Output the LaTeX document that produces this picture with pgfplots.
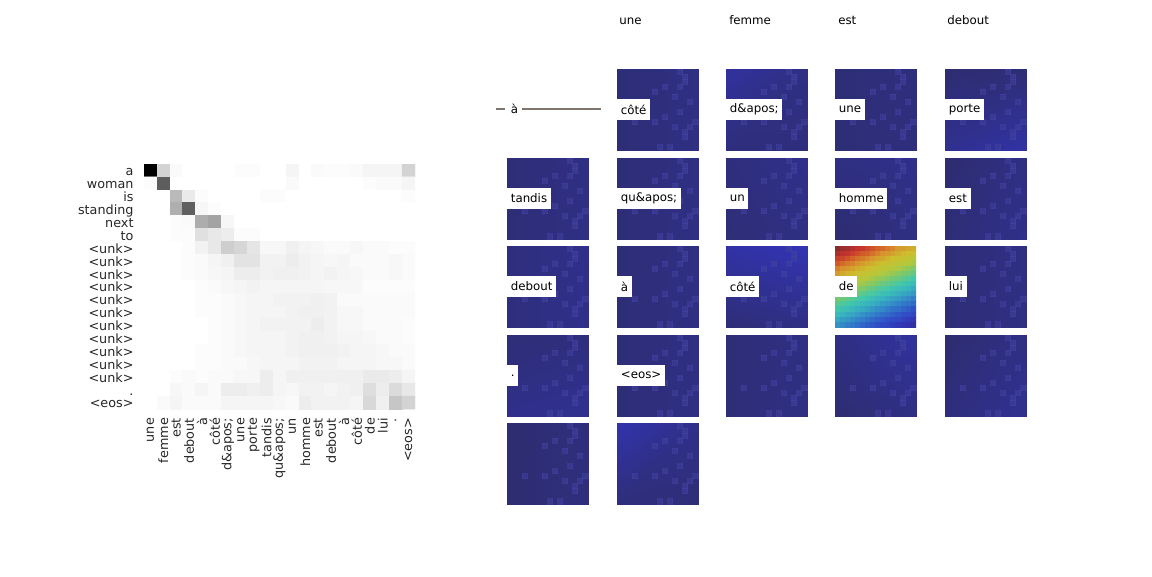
\documentclass[border=0pt]{standalone}
\usepackage{fontspec}
\setmainfont{DejaVu Sans}
\usepackage{pgfplots}
\pgfplotsset{compat=1.18}
\usepackage{pgfplotstable}
\definecolor{speck}{RGB}{66,66,160}
\definecolor{guide}{RGB}{128,118,112}
\definecolor{ink}{RGB}{38,38,38}
\newcommand{\px}{0.72pt}

\pgfplotsset{
  colormap={wb}{gray(0pt)=(1) gray(1pt)=(0)},
  colormap={att}{[1pt]
    rgb255(0pt)=(46,45,112) rgb255(5pt)=(48,48,145) rgb255(10pt)=(51,51,180)
    rgb255(20pt)=(48,82,200) rgb255(30pt)=(50,132,200) rgb255(40pt)=(56,180,190)
    rgb255(47pt)=(66,200,170) rgb255(55pt)=(120,200,110) rgb255(63pt)=(180,200,60)
    rgb255(72pt)=(205,190,45) rgb255(80pt)=(215,145,45) rgb255(87pt)=(210,90,40)
    rgb255(93pt)=(195,50,45) rgb255(100pt)=(135,45,45)},
  imgax/.style={anchor=north west, width=58.32pt, height=58.32pt, scale only axis,
    xmin=0, xmax=16, ymin=0, ymax=16, y dir=reverse, hide axis,
    colormap name=att, point meta min=0, point meta max=1},
}
\tikzset{
  lab/.style={fill=white, anchor=west, inner xsep=2.6pt, inner ysep=0pt,
    minimum height=15pt, font=\fontsize{8.5}{10}\selectfont, text=black},
  ttl/.style={anchor=base west, inner sep=0pt, font=\fontsize{8.5}{10}\selectfont, text=black},
}

% lighter pixels shared by all attention images
\pgfplotstableread{
x y
12.5 0.5
13.5 1.5
13.5 2.5
9.5 3.5
12.5 3.5
7.5 4.5
11.5 5.5
14.5 6.5
12.5 8.5
9.5 9.5
7.5 10.5
15.5 10.5
11.5 11.5
14.5 11.5
13.5 12.5
13.5 13.5
8.5 15.5
10.5 15.5
3.5 10.5
}\speck

% #1,#2 top-left in px; #3..#6 corner values TL TR BL BR
\newcommand{\img}[6]{%
\begin{axis}[imgax, at={(#1*\px,-#2*\px)}]
\addplot[surf, shader=interp, mesh/cols=2, point meta=explicit]
  coordinates {(0,0) [#3] (16,0) [#4] (0,16) [#5] (16,16) [#6]};
\addplot[speck, only marks, mark=square*, mark size=1.82pt, opacity=0.55,
  mark options={draw=speck, fill=speck, line width=0pt}] table {\speck};
\end{axis}}

\begin{document}
\begin{tikzpicture}
\path[use as bounding box] (0,0) rectangle (1152*\px,-576*\px);

% source/target attention heatmap
\begin{axis}[
  anchor=north west, at={(144*\px,-164*\px)},
  width=195.12pt, height=176.4pt, scale only axis,
  xmin=-0.5, xmax=20.5, ymin=-0.5, ymax=18.5, y dir=reverse,
  axis line style={draw=none}, major tick length=0pt,
  xtick={0,...,20}, ytick={0,...,18},
  xticklabels={une,femme,est,debout,à,côté,d\&apos;,une,porte,tandis,qu\&apos;,un,homme,est,debout,à,côté,de,lui,.,<eos>},
  yticklabels={a,woman,is,standing,next,to,<unk>,<unk>,<unk>,<unk>,<unk>,<unk>,<unk>,<unk>,<unk>,<unk>,<unk>,.,<eos>},
  xticklabel style={rotate=90, anchor=east, font=\fontsize{9.2}{10}\selectfont, text=ink},
  yticklabel style={anchor=east, inner ysep=0pt, text height=6.6pt, text depth=1.2pt,
    yshift=-1.2pt, font=\fontsize{9.2}{10}\selectfont, text=ink},
  xticklabel shift=3pt, yticklabel shift=4pt,
  colormap name=wb, point meta min=0, point meta max=1,
]
\addplot[matrix plot*, mesh/cols=21, point meta=explicit] coordinates {
(0,0) [1.00] (1,0) [0.17] (2,0) [0.02] (3,0) [0.00] (4,0) [0.00] (5,0) [0.00] (6,0) [0.00] (7,0) [0.01] (8,0) [0.01] (9,0) [0.00] (10,0) [0.00] (11,0) [0.04] (12,0) [0.00] (13,0) [0.02] (14,0) [0.01] (15,0) [0.01] (16,0) [0.02] (17,0) [0.04] (18,0) [0.04] (19,0) [0.04] (20,0) [0.17]
(0,1) [0.01] (1,1) [0.63] (2,1) [0.00] (3,1) [0.00] (4,1) [0.00] (5,1) [0.00] (6,1) [0.00] (7,1) [0.00] (8,1) [0.00] (9,1) [0.00] (10,1) [0.00] (11,1) [0.02] (12,1) [0.00] (13,1) [0.00] (14,1) [0.00] (15,1) [0.00] (16,1) [0.00] (17,1) [0.01] (18,1) [0.02] (19,1) [0.02] (20,1) [0.04]
(0,2) [0.00] (1,2) [0.00] (2,2) [0.27] (3,2) [0.08] (4,2) [0.01] (5,2) [0.00] (6,2) [0.00] (7,2) [0.00] (8,2) [0.00] (9,2) [0.01] (10,2) [0.01] (11,2) [0.00] (12,2) [0.00] (13,2) [0.00] (14,2) [0.00] (15,2) [0.00] (16,2) [0.00] (17,2) [0.00] (18,2) [0.00] (19,2) [0.00] (20,2) [0.01]
(0,3) [0.00] (1,3) [0.00] (2,3) [0.31] (3,3) [0.62] (4,3) [0.03] (5,3) [0.01] (6,3) [0.00] (7,3) [0.00] (8,3) [0.00] (9,3) [0.00] (10,3) [0.00] (11,3) [0.00] (12,3) [0.00] (13,3) [0.00] (14,3) [0.00] (15,3) [0.00] (16,3) [0.00] (17,3) [0.00] (18,3) [0.00] (19,3) [0.00] (20,3) [0.00]
(0,4) [0.00] (1,4) [0.00] (2,4) [0.01] (3,4) [0.02] (4,4) [0.32] (5,4) [0.36] (6,4) [0.03] (7,4) [0.00] (8,4) [0.00] (9,4) [0.00] (10,4) [0.00] (11,4) [0.00] (12,4) [0.00] (13,4) [0.00] (14,4) [0.00] (15,4) [0.00] (16,4) [0.00] (17,4) [0.00] (18,4) [0.00] (19,4) [0.00] (20,4) [0.00]
(0,5) [0.00] (1,5) [0.00] (2,5) [0.01] (3,5) [0.01] (4,5) [0.12] (5,5) [0.09] (6,5) [0.07] (7,5) [0.01] (8,5) [0.01] (9,5) [0.00] (10,5) [0.00] (11,5) [0.00] (12,5) [0.00] (13,5) [0.00] (14,5) [0.00] (15,5) [0.00] (16,5) [0.00] (17,5) [0.00] (18,5) [0.00] (19,5) [0.00] (20,5) [0.00]
(0,6) [0.00] (1,6) [0.00] (2,6) [0.00] (3,6) [0.01] (4,6) [0.05] (5,6) [0.09] (6,6) [0.19] (7,6) [0.16] (8,6) [0.10] (9,6) [0.03] (10,6) [0.03] (11,6) [0.06] (12,6) [0.04] (13,6) [0.03] (14,6) [0.02] (15,6) [0.02] (16,6) [0.03] (17,6) [0.02] (18,6) [0.02] (19,6) [0.01] (20,6) [0.01]
(0,7) [0.00] (1,7) [0.00] (2,7) [0.00] (3,7) [0.01] (4,7) [0.02] (5,7) [0.04] (6,7) [0.06] (7,7) [0.11] (8,7) [0.11] (9,7) [0.05] (10,7) [0.05] (11,7) [0.07] (12,7) [0.05] (13,7) [0.04] (14,7) [0.03] (15,7) [0.04] (16,7) [0.02] (17,7) [0.02] (18,7) [0.02] (19,7) [0.03] (20,7) [0.02]
(0,8) [0.00] (1,8) [0.00] (2,8) [0.00] (3,8) [0.01] (4,8) [0.02] (5,8) [0.03] (6,8) [0.04] (7,8) [0.07] (8,8) [0.07] (9,8) [0.05] (10,8) [0.06] (11,8) [0.06] (12,8) [0.05] (13,8) [0.04] (14,8) [0.05] (15,8) [0.04] (16,8) [0.03] (17,8) [0.02] (18,8) [0.02] (19,8) [0.03] (20,8) [0.02]
(0,9) [0.00] (1,9) [0.00] (2,9) [0.00] (3,9) [0.00] (4,9) [0.01] (5,9) [0.02] (6,9) [0.03] (7,9) [0.04] (8,9) [0.05] (9,9) [0.04] (10,9) [0.04] (11,9) [0.04] (12,9) [0.04] (13,9) [0.04] (14,9) [0.03] (15,9) [0.03] (16,9) [0.03] (17,9) [0.01] (18,9) [0.01] (19,9) [0.01] (20,9) [0.01]
(0,10) [0.00] (1,10) [0.00] (2,10) [0.00] (3,10) [0.00] (4,10) [0.01] (5,10) [0.01] (6,10) [0.02] (7,10) [0.03] (8,10) [0.04] (9,10) [0.04] (10,10) [0.05] (11,10) [0.05] (12,10) [0.05] (13,10) [0.06] (14,10) [0.05] (15,10) [0.02] (16,10) [0.02] (17,10) [0.02] (18,10) [0.02] (19,10) [0.02] (20,10) [0.02]
(0,11) [0.00] (1,11) [0.00] (2,11) [0.00] (3,11) [0.00] (4,11) [0.01] (5,11) [0.01] (6,11) [0.02] (7,11) [0.03] (8,11) [0.04] (9,11) [0.04] (10,11) [0.04] (11,11) [0.05] (12,11) [0.06] (13,11) [0.06] (14,11) [0.05] (15,11) [0.03] (16,11) [0.03] (17,11) [0.02] (18,11) [0.02] (19,11) [0.02] (20,11) [0.02]
(0,12) [0.00] (1,12) [0.00] (2,12) [0.00] (3,12) [0.00] (4,12) [0.00] (5,12) [0.01] (6,12) [0.02] (7,12) [0.03] (8,12) [0.04] (9,12) [0.05] (10,12) [0.05] (11,12) [0.05] (12,12) [0.05] (13,12) [0.07] (14,12) [0.05] (15,12) [0.03] (16,12) [0.03] (17,12) [0.02] (18,12) [0.02] (19,12) [0.02] (20,12) [0.01]
(0,13) [0.00] (1,13) [0.00] (2,13) [0.00] (3,13) [0.00] (4,13) [0.00] (5,13) [0.01] (6,13) [0.02] (7,13) [0.03] (8,13) [0.04] (9,13) [0.04] (10,13) [0.04] (11,13) [0.05] (12,13) [0.06] (13,13) [0.06] (14,13) [0.05] (15,13) [0.04] (16,13) [0.04] (17,13) [0.03] (18,13) [0.02] (19,13) [0.02] (20,13) [0.01]
(0,14) [0.00] (1,14) [0.00] (2,14) [0.00] (3,14) [0.00] (4,14) [0.01] (5,14) [0.01] (6,14) [0.02] (7,14) [0.03] (8,14) [0.04] (9,14) [0.04] (10,14) [0.04] (11,14) [0.05] (12,14) [0.06] (13,14) [0.06] (14,14) [0.06] (15,14) [0.05] (16,14) [0.04] (17,14) [0.04] (18,14) [0.03] (19,14) [0.02] (20,14) [0.02]
(0,15) [0.00] (1,15) [0.00] (2,15) [0.00] (3,15) [0.00] (4,15) [0.01] (5,15) [0.01] (6,15) [0.02] (7,15) [0.02] (8,15) [0.03] (9,15) [0.04] (10,15) [0.04] (11,15) [0.04] (12,15) [0.05] (13,15) [0.05] (14,15) [0.05] (15,15) [0.04] (16,15) [0.04] (17,15) [0.04] (18,15) [0.03] (19,15) [0.03] (20,15) [0.02]
(0,16) [0.00] (1,16) [0.00] (2,16) [0.01] (3,16) [0.02] (4,16) [0.01] (5,16) [0.02] (6,16) [0.02] (7,16) [0.03] (8,16) [0.03] (9,16) [0.07] (10,16) [0.04] (11,16) [0.06] (12,16) [0.06] (13,16) [0.06] (14,16) [0.06] (15,16) [0.06] (16,16) [0.06] (17,16) [0.08] (18,16) [0.08] (19,16) [0.07] (20,16) [0.04]
(0,17) [0.00] (1,17) [0.00] (2,17) [0.03] (3,17) [0.02] (4,17) [0.04] (5,17) [0.02] (6,17) [0.07] (7,17) [0.07] (8,17) [0.06] (9,17) [0.07] (10,17) [0.04] (11,17) [0.03] (12,17) [0.05] (13,17) [0.05] (14,17) [0.04] (15,17) [0.05] (16,17) [0.06] (17,17) [0.13] (18,17) [0.07] (19,17) [0.14] (20,17) [0.09]
(0,18) [0.00] (1,18) [0.02] (2,18) [0.04] (3,18) [0.02] (4,18) [0.02] (5,18) [0.02] (6,18) [0.04] (7,18) [0.04] (8,18) [0.04] (9,18) [0.04] (10,18) [0.03] (11,18) [0.02] (12,18) [0.07] (13,18) [0.05] (14,18) [0.05] (15,18) [0.05] (16,18) [0.04] (17,18) [0.15] (18,18) [0.06] (19,18) [0.22] (20,18) [0.17]
};
\end{axis}

% attention images, row by row
\img{617}{69}{0.01}{0.03}{0.01}{0.03}
\img{726}{69}{0.07}{0.03}{0.02}{0.02}
\img{835}{69}{0.01}{0.02}{0.01}{0.02}
\img{945}{69}{0.00}{0.01}{0.05}{0.08}

\img{507}{158}{0.01}{0.03}{0.01}{0.03}
\img{617}{158}{0.01}{0.03}{0.01}{0.03}
\img{726}{158}{0.02}{0.04}{0.01}{0.03}
\img{835}{158}{0.03}{0.04}{0.00}{0.03}
\img{945}{158}{0.00}{0.03}{0.01}{0.04}

\img{507}{246}{0.02}{0.04}{0.02}{0.04}
\img{617}{246}{0.01}{0.03}{0.01}{0.03}
\img{726}{246}{0.08}{0.10}{0.01}{0.03}
\img{945}{246}{0.01}{0.03}{0.01}{0.03}

\img{507}{335}{0.01}{0.02}{0.04}{0.05}
\img{617}{335}{0.01}{0.03}{0.01}{0.03}
\img{726}{335}{0.01}{0.03}{0.01}{0.03}
\img{835}{335}{0.03}{0.07}{0.00}{0.03}
\img{945}{335}{0.00}{0.03}{0.02}{0.05}

\img{507}{423}{0.00}{0.02}{0.00}{0.02}
\img{617}{423}{0.09}{0.04}{0.02}{0.01}

% the one strong attention image ("de")
\begin{axis}[imgax, at={(835*\px,-246*\px)}]
\addplot[matrix plot*, mesh/cols=16, point meta=explicit] coordinates {
(0.5,0.5) [1.00] (1.5,0.5) [0.98] (2.5,0.5) [0.97] (3.5,0.5) [0.95] (4.5,0.5) [0.93] (5.5,0.5) [0.92] (6.5,0.5) [0.90] (7.5,0.5) [0.88] (8.5,0.5) [0.86] (9.5,0.5) [0.85] (10.5,0.5) [0.83] (11.5,0.5) [0.81] (12.5,0.5) [0.78] (13.5,0.5) [0.78] (14.5,0.5) [0.76] (15.5,0.5) [0.75]
(0.5,1.5) [0.96] (1.5,1.5) [0.94] (2.5,1.5) [0.93] (3.5,1.5) [0.91] (4.5,1.5) [0.89] (5.5,1.5) [0.87] (6.5,1.5) [0.86] (7.5,1.5) [0.84] (8.5,1.5) [0.82] (9.5,1.5) [0.80] (10.5,1.5) [0.79] (11.5,1.5) [0.77] (12.5,1.5) [0.75] (13.5,1.5) [0.73] (14.5,1.5) [0.72] (15.5,1.5) [0.70]
(0.5,2.5) [0.91] (1.5,2.5) [0.90] (2.5,2.5) [0.88] (3.5,2.5) [0.86] (4.5,2.5) [0.84] (5.5,2.5) [0.83] (6.5,2.5) [0.81] (7.5,2.5) [0.79] (8.5,2.5) [0.77] (9.5,2.5) [0.76] (10.5,2.5) [0.74] (11.5,2.5) [0.72] (12.5,2.5) [0.71] (13.5,2.5) [0.69] (14.5,2.5) [0.67] (15.5,2.5) [0.65]
(0.5,3.5) [0.87] (1.5,3.5) [0.85] (2.5,3.5) [0.83] (3.5,3.5) [0.82] (4.5,3.5) [0.80] (5.5,3.5) [0.78] (6.5,3.5) [0.76] (7.5,3.5) [0.75] (8.5,3.5) [0.73] (9.5,3.5) [0.71] (10.5,3.5) [0.70] (11.5,3.5) [0.68] (12.5,3.5) [0.66] (13.5,3.5) [0.64] (14.5,3.5) [0.63] (15.5,3.5) [0.61]
(0.5,4.5) [0.82] (1.5,4.5) [0.80] (2.5,4.5) [0.79] (3.5,4.5) [0.77] (4.5,4.5) [0.75] (5.5,4.5) [0.74] (6.5,4.5) [0.72] (7.5,4.5) [0.70] (8.5,4.5) [0.68] (9.5,4.5) [0.67] (10.5,4.5) [0.65] (11.5,4.5) [0.63] (12.5,4.5) [0.62] (13.5,4.5) [0.60] (14.5,4.5) [0.58] (15.5,4.5) [0.56]
(0.5,5.5) [0.78] (1.5,5.5) [0.76] (2.5,5.5) [0.74] (3.5,5.5) [0.73] (4.5,5.5) [0.71] (5.5,5.5) [0.69] (6.5,5.5) [0.67] (7.5,5.5) [0.66] (8.5,5.5) [0.64] (9.5,5.5) [0.62] (10.5,5.5) [0.61] (11.5,5.5) [0.59] (12.5,5.5) [0.57] (13.5,5.5) [0.55] (14.5,5.5) [0.54] (15.5,5.5) [0.52]
(0.5,6.5) [0.73] (1.5,6.5) [0.71] (2.5,6.5) [0.70] (3.5,6.5) [0.68] (4.5,6.5) [0.66] (5.5,6.5) [0.65] (6.5,6.5) [0.63] (7.5,6.5) [0.61] (8.5,6.5) [0.59] (9.5,6.5) [0.58] (10.5,6.5) [0.56] (11.5,6.5) [0.54] (12.5,6.5) [0.53] (13.5,6.5) [0.51] (14.5,6.5) [0.49] (15.5,6.5) [0.47]
(0.5,7.5) [0.69] (1.5,7.5) [0.67] (2.5,7.5) [0.65] (3.5,7.5) [0.64] (4.5,7.5) [0.62] (5.5,7.5) [0.60] (6.5,7.5) [0.58] (7.5,7.5) [0.57] (8.5,7.5) [0.55] (9.5,7.5) [0.53] (10.5,7.5) [0.52] (11.5,7.5) [0.50] (12.5,7.5) [0.48] (13.5,7.5) [0.46] (14.5,7.5) [0.45] (15.5,7.5) [0.43]
(0.5,8.5) [0.64] (1.5,8.5) [0.62] (2.5,8.5) [0.61] (3.5,8.5) [0.59] (4.5,8.5) [0.57] (5.5,8.5) [0.56] (6.5,8.5) [0.54] (7.5,8.5) [0.52] (8.5,8.5) [0.50] (9.5,8.5) [0.49] (10.5,8.5) [0.47] (11.5,8.5) [0.45] (12.5,8.5) [0.44] (13.5,8.5) [0.42] (14.5,8.5) [0.40] (15.5,8.5) [0.38]
(0.5,9.5) [0.60] (1.5,9.5) [0.58] (2.5,9.5) [0.56] (3.5,9.5) [0.55] (4.5,9.5) [0.53] (5.5,9.5) [0.51] (6.5,9.5) [0.49] (7.5,9.5) [0.48] (8.5,9.5) [0.46] (9.5,9.5) [0.44] (10.5,9.5) [0.43] (11.5,9.5) [0.41] (12.5,9.5) [0.39] (13.5,9.5) [0.37] (14.5,9.5) [0.36] (15.5,9.5) [0.34]
(0.5,10.5) [0.55] (1.5,10.5) [0.53] (2.5,10.5) [0.52] (3.5,10.5) [0.50] (4.5,10.5) [0.48] (5.5,10.5) [0.47] (6.5,10.5) [0.45] (7.5,10.5) [0.43] (8.5,10.5) [0.41] (9.5,10.5) [0.40] (10.5,10.5) [0.38] (11.5,10.5) [0.36] (12.5,10.5) [0.35] (13.5,10.5) [0.33] (14.5,10.5) [0.31] (15.5,10.5) [0.29]
(0.5,11.5) [0.51] (1.5,11.5) [0.49] (2.5,11.5) [0.47] (3.5,11.5) [0.46] (4.5,11.5) [0.44] (5.5,11.5) [0.42] (6.5,11.5) [0.40] (7.5,11.5) [0.39] (8.5,11.5) [0.37] (9.5,11.5) [0.35] (10.5,11.5) [0.34] (11.5,11.5) [0.32] (12.5,11.5) [0.30] (13.5,11.5) [0.28] (14.5,11.5) [0.27] (15.5,11.5) [0.25]
(0.5,12.5) [0.46] (1.5,12.5) [0.44] (2.5,12.5) [0.43] (3.5,12.5) [0.41] (4.5,12.5) [0.39] (5.5,12.5) [0.38] (6.5,12.5) [0.36] (7.5,12.5) [0.34] (8.5,12.5) [0.32] (9.5,12.5) [0.31] (10.5,12.5) [0.29] (11.5,12.5) [0.27] (12.5,12.5) [0.26] (13.5,12.5) [0.24] (14.5,12.5) [0.22] (15.5,12.5) [0.20]
(0.5,13.5) [0.42] (1.5,13.5) [0.40] (2.5,13.5) [0.38] (3.5,13.5) [0.37] (4.5,13.5) [0.35] (5.5,13.5) [0.33] (6.5,13.5) [0.31] (7.5,13.5) [0.30] (8.5,13.5) [0.28] (9.5,13.5) [0.26] (10.5,13.5) [0.25] (11.5,13.5) [0.23] (12.5,13.5) [0.21] (13.5,13.5) [0.19] (14.5,13.5) [0.18] (15.5,13.5) [0.16]
(0.5,14.5) [0.37] (1.5,14.5) [0.35] (2.5,14.5) [0.34] (3.5,14.5) [0.32] (4.5,14.5) [0.30] (5.5,14.5) [0.29] (6.5,14.5) [0.27] (7.5,14.5) [0.25] (8.5,14.5) [0.23] (9.5,14.5) [0.22] (10.5,14.5) [0.20] (11.5,14.5) [0.18] (12.5,14.5) [0.17] (13.5,14.5) [0.15] (14.5,14.5) [0.13] (15.5,14.5) [0.11]
(0.5,15.5) [0.33] (1.5,15.5) [0.31] (2.5,15.5) [0.29] (3.5,15.5) [0.28] (4.5,15.5) [0.26] (5.5,15.5) [0.24] (6.5,15.5) [0.22] (7.5,15.5) [0.21] (8.5,15.5) [0.19] (9.5,15.5) [0.17] (10.5,15.5) [0.16] (11.5,15.5) [0.14] (12.5,15.5) [0.12] (13.5,15.5) [0.10] (14.5,15.5) [0.09] (15.5,15.5) [0.07]
};
\end{axis}

% column titles
\node[ttl] at (619*\px,-24.5*\px) {une};
\node[ttl] at (729*\px,-24.5*\px) {femme};
\node[ttl] at (838*\px,-24.5*\px) {est};
\node[ttl] at (947*\px,-24.5*\px) {debout};

% the empty first cell
\draw[guide, line width=0.8pt] (496*\px,-109*\px) -- (505*\px,-109*\px);
\draw[guide, line width=0.8pt] (522*\px,-109*\px) -- (601*\px,-109*\px);
\node[ttl, anchor=base] at (514.5*\px,-113*\px) {à};

% labels inside the images
\node[lab] at (617*\px,-109.5*\px) {côté};
\node[lab] at (726*\px,-109.5*\px) {d\&apos;};
\node[lab] at (835*\px,-109.5*\px) {une};
\node[lab] at (945*\px,-109.5*\px) {porte};
\node[lab] at (507*\px,-198.5*\px) {tandis};
\node[lab] at (617*\px,-198.5*\px) {qu\&apos;};
\node[lab] at (726*\px,-198.5*\px) {un};
\node[lab] at (835*\px,-198.5*\px) {homme};
\node[lab] at (945*\px,-198.5*\px) {est};
\node[lab] at (507*\px,-286.5*\px) {debout};
\node[lab] at (617*\px,-286.5*\px) {à};
\node[lab] at (726*\px,-286.5*\px) {côté};
\node[lab] at (835*\px,-286.5*\px) {de};
\node[lab] at (945*\px,-286.5*\px) {lui};
\node[lab] at (507*\px,-375.5*\px) {.};
\node[lab] at (617*\px,-375.5*\px) {<eos>};
\end{tikzpicture}
\end{document}
